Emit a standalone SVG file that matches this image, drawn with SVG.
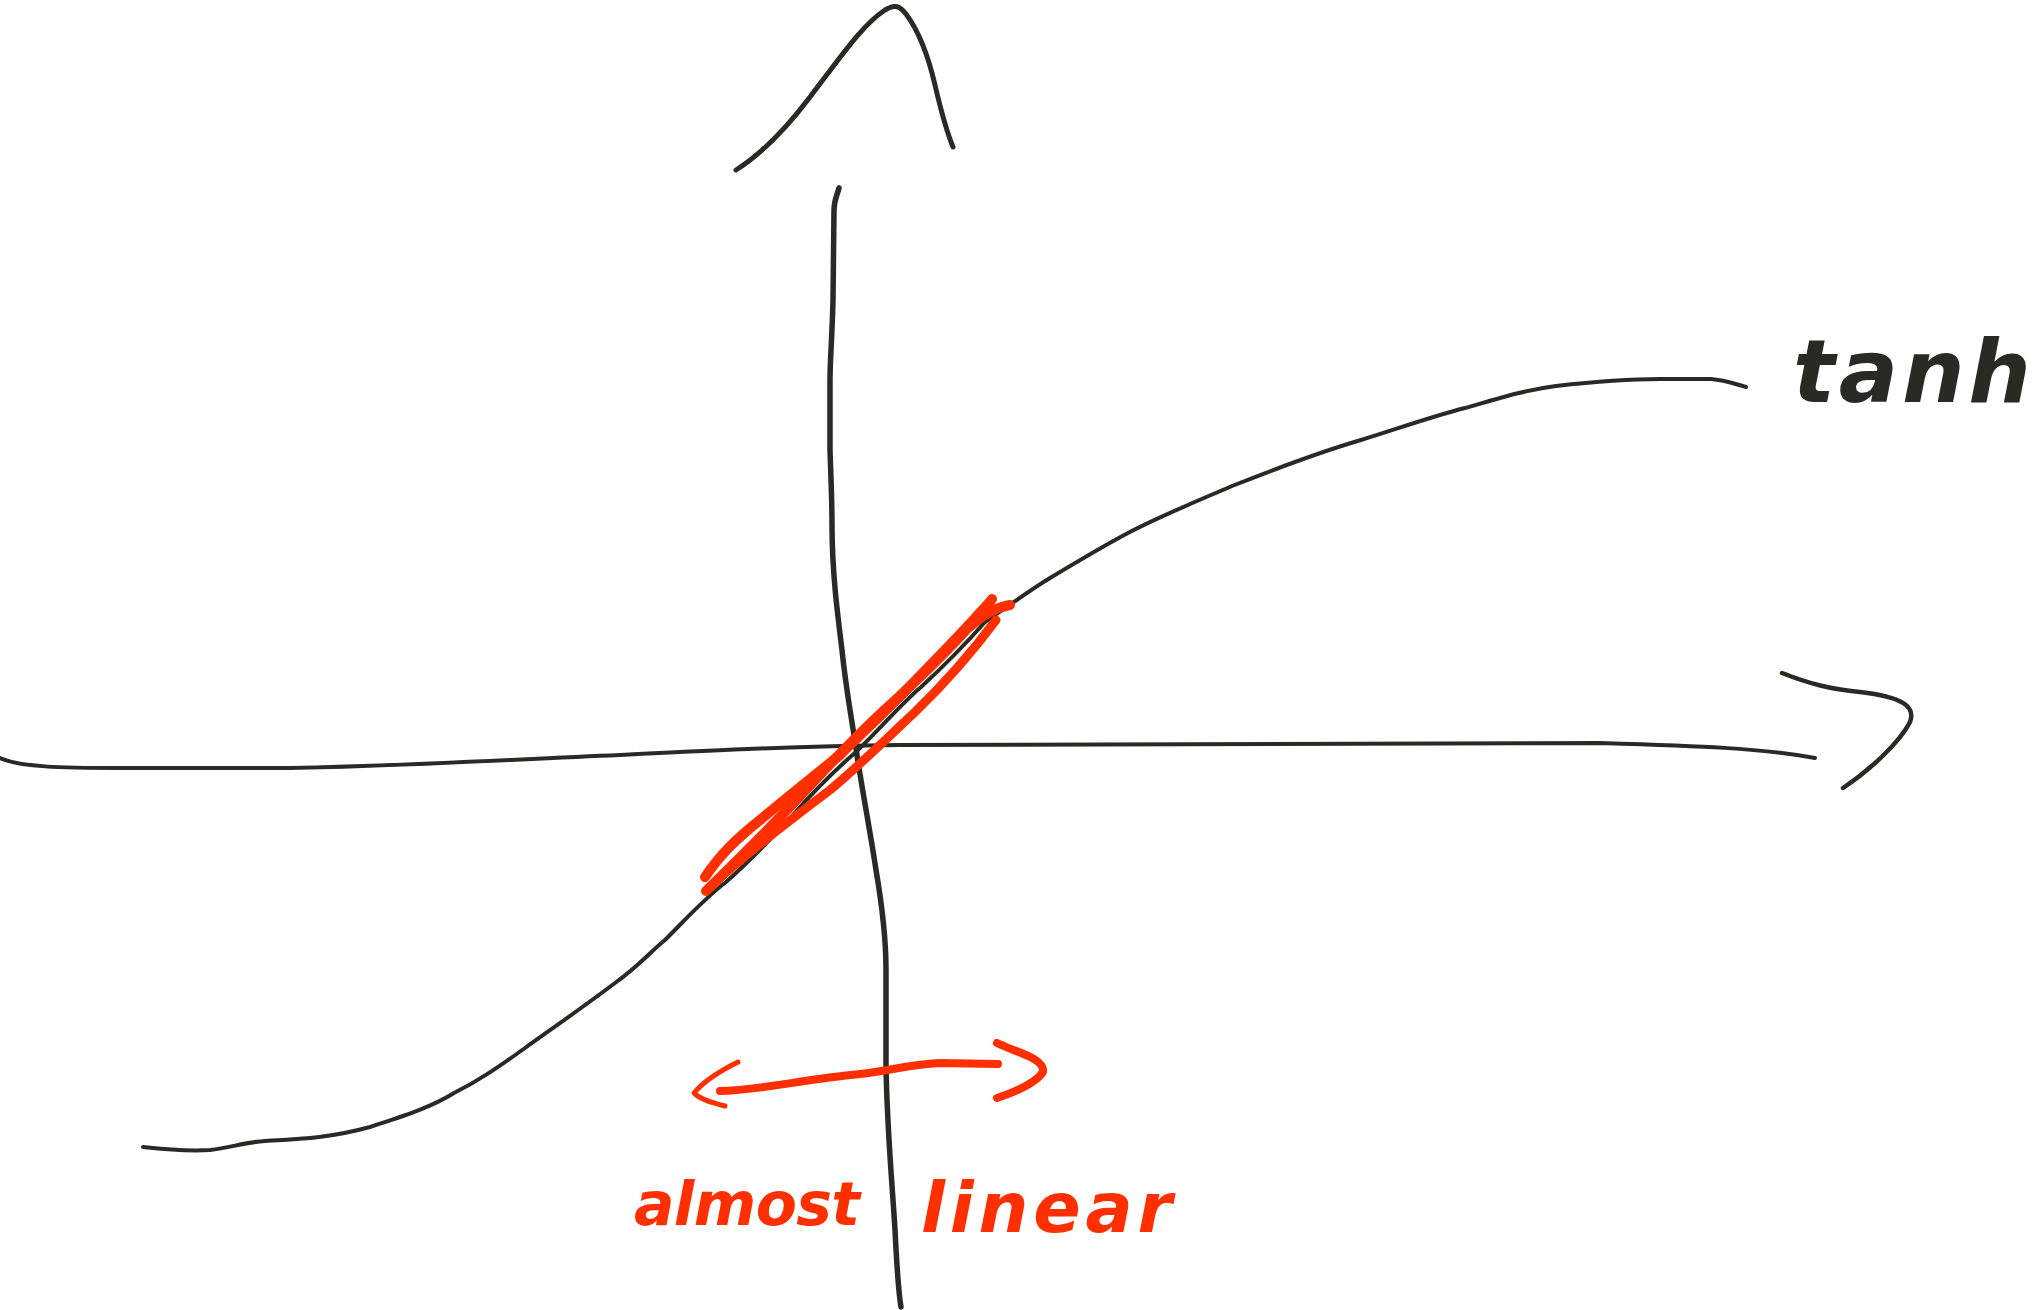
<svg xmlns="http://www.w3.org/2000/svg" width="2033" height="1310" viewBox="0 0 2033 1310">
<style>
.ink{fill:none;stroke:#2a2a25;stroke-linecap:round;stroke-linejoin:round}
.red{fill:none;stroke:#ff2f00;stroke-linecap:round;stroke-linejoin:round}
.lbl{font-family:"DejaVu Sans","Liberation Sans",sans-serif;font-style:oblique}
</style>
<rect width="2033" height="1310" fill="#ffffff"/>
<g id="y-axis">
<path class="ink" stroke-width="5.5" d="M839,188 C837,196 834,200 834,210 L833,300 C832,340 830,360 830,380 L830,450 C831,480 832,500 832,525 C832,570 837,610 842,650 C846,690 852,720 857,755 C863,795 870,830 876,870 C882,905 886,940 886,970 L886,1065 C887,1130 892,1180 895,1230 C897,1270 898,1290 901,1307"/>
<path class="ink" stroke-width="5" d="M736,170 C760,155 785,130 810,97 C840,58 862,25 885,10 C895,4 900,6 906,14 C918,30 928,55 935,85 C942,115 948,135 953,147"/>
</g>
<g id="x-axis">
<path class="ink" stroke-width="4" d="M0,758 C20,767 60,768 120,768 L290,768 C400,766 500,760 620,755 C720,750 800,746 900,745 L1600,743 C1700,746 1760,748 1815,758"/>
<path class="ink" stroke-width="4.5" d="M1782,673 C1810,684 1830,689 1860,692 C1902,697 1916,706 1910,722 C1900,742 1870,770 1843,788"/>
</g>
<g id="tanh-curve">
<path class="ink" stroke-width="4" d="M143,1147 C170,1150 195,1151 210,1150 C230,1148 245,1142 265,1141 C300,1139 330,1138 370,1127 C400,1117 430,1108 454,1093 C480,1080 500,1066 525,1048 C560,1023 590,1002 615,983 C640,965 650,952 665,940 C690,915 705,898 726,882 C745,865 770,840 791,817 C815,790 835,770 856,752 C880,729 900,705 921,687 C945,665 962,648 985,622 C1010,605 1030,590 1050,578 C1080,560 1105,545 1128,533 C1160,516 1200,500 1232,486 C1280,467 1320,452 1361,440 C1400,428 1430,417 1465,408 C1500,398 1525,390 1556,386 C1600,381 1630,379 1660,379 L1711,379 C1725,380 1735,384 1746,387"/>
</g>
<g id="linear-highlight">
<path class="red" stroke-width="10" d="M705,877 C720,855 735,840 760,820 C790,795 815,775 840,755 C860,735 885,712 910,686 C935,660 955,640 975,618 C984,608 990,602 992,599"/>
<path class="red" stroke-width="10" d="M706,891 C740,858 780,818 815,780 C845,748 870,722 900,696 C930,668 950,648 968,628 C985,612 998,607 1010,605"/>
<path class="red" stroke-width="9" d="M712,885 C745,855 790,820 830,790 C860,765 885,740 915,712 C945,683 970,655 996,620"/>
</g>
<g id="range-arrow">
<path class="red" stroke-width="8" d="M720,1091 C760,1090 800,1080 860,1074 C890,1071 905,1065 940,1063 L998,1064"/>
<path class="red" stroke-width="5" d="M738,1062 C718,1072 703,1082 694,1093 C702,1101 715,1103 725,1106"/>
<path class="red" stroke-width="8" d="M997,1043 C1015,1052 1045,1058 1043,1072 C1035,1084 1015,1092 997,1098"/>
</g>
<g id="labels">
<text class="lbl" x="1793" y="402" font-size="88" font-weight="bold" fill="#2a2a25" textLength="238" lengthAdjust="spacing">tanh</text>
<text class="lbl" x="634" y="1225" font-size="60" font-weight="bold" fill="#ff2f00" textLength="226" lengthAdjust="spacing">almost</text>
<text class="lbl" x="921" y="1232" font-size="70" font-weight="bold" fill="#ff2f00" textLength="251" lengthAdjust="spacing">linear</text>
</g>
</svg>
